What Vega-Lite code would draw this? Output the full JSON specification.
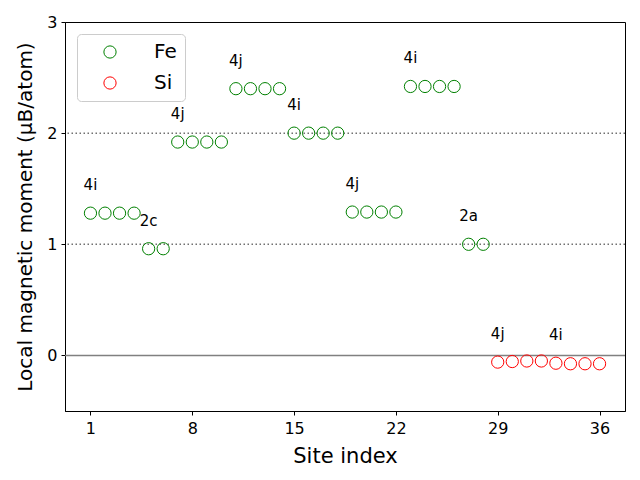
{
  "$schema": "https://vega.github.io/schema/vega-lite/v6.json",
  "width": 560,
  "height": 389,
  "autosize": {"type": "none"},
  "padding": {"left": 65, "top": 22, "right": 15, "bottom": 69},
  "background": "white",
  "config": {
    "font": "DejaVu Sans",
    "view": {"stroke": "black", "strokeWidth": 1},
    "axis": {
      "grid": false,
      "domainColor": "black",
      "tickColor": "black",
      "tickSize": 4,
      "labelColor": "black",
      "titleColor": "black",
      "labelFont": "DejaVu Sans",
      "titleFont": "DejaVu Sans",
      "labelFontSize": 16,
      "titleFontSize": 21,
      "titleFontWeight": "normal"
    }
  },
  "datasets": {
    "moments": [
      {"site": 1, "moment": 1.28, "element": "Fe"},
      {"site": 2, "moment": 1.28, "element": "Fe"},
      {"site": 3, "moment": 1.28, "element": "Fe"},
      {"site": 4, "moment": 1.28, "element": "Fe"},
      {"site": 5, "moment": 0.96, "element": "Fe"},
      {"site": 6, "moment": 0.96, "element": "Fe"},
      {"site": 7, "moment": 1.92, "element": "Fe"},
      {"site": 8, "moment": 1.92, "element": "Fe"},
      {"site": 9, "moment": 1.92, "element": "Fe"},
      {"site": 10, "moment": 1.92, "element": "Fe"},
      {"site": 11, "moment": 2.4, "element": "Fe"},
      {"site": 12, "moment": 2.4, "element": "Fe"},
      {"site": 13, "moment": 2.4, "element": "Fe"},
      {"site": 14, "moment": 2.4, "element": "Fe"},
      {"site": 15, "moment": 2.0, "element": "Fe"},
      {"site": 16, "moment": 2.0, "element": "Fe"},
      {"site": 17, "moment": 2.0, "element": "Fe"},
      {"site": 18, "moment": 2.0, "element": "Fe"},
      {"site": 19, "moment": 1.29, "element": "Fe"},
      {"site": 20, "moment": 1.29, "element": "Fe"},
      {"site": 21, "moment": 1.29, "element": "Fe"},
      {"site": 22, "moment": 1.29, "element": "Fe"},
      {"site": 23, "moment": 2.42, "element": "Fe"},
      {"site": 24, "moment": 2.42, "element": "Fe"},
      {"site": 25, "moment": 2.42, "element": "Fe"},
      {"site": 26, "moment": 2.42, "element": "Fe"},
      {"site": 27, "moment": 1.0, "element": "Fe"},
      {"site": 28, "moment": 1.0, "element": "Fe"},
      {"site": 29, "moment": -0.06, "element": "Si"},
      {"site": 30, "moment": -0.055, "element": "Si"},
      {"site": 31, "moment": -0.05, "element": "Si"},
      {"site": 32, "moment": -0.05, "element": "Si"},
      {"site": 33, "moment": -0.07, "element": "Si"},
      {"site": 34, "moment": -0.075, "element": "Si"},
      {"site": 35, "moment": -0.075, "element": "Si"},
      {"site": 36, "moment": -0.075, "element": "Si"}
    ],
    "labels": [
      {"site": 1, "moment": 1.28, "label": "4i"},
      {"site": 5, "moment": 0.96, "label": "2c"},
      {"site": 7, "moment": 1.92, "label": "4j"},
      {"site": 11, "moment": 2.4, "label": "4j"},
      {"site": 15, "moment": 2.0, "label": "4i"},
      {"site": 19, "moment": 1.29, "label": "4j"},
      {"site": 23, "moment": 2.42, "label": "4i"},
      {"site": 27, "moment": 1.0, "label": "2a"},
      {"site": 29, "moment": -0.06, "label": "4j"},
      {"site": 33, "moment": -0.07, "label": "4i"}
    ]
  },
  "layer": [
    {
      "data": {"values": [{"moment": 1}, {"moment": 2}]},
      "mark": {"type": "rule", "color": "#707070", "strokeWidth": 1.5, "strokeDash": [1.5, 2.5]},
      "encoding": {
        "y": {"field": "moment", "type": "quantitative", "scale": {"domain": [-0.5, 3], "nice": false, "zero": false}}
      }
    },
    {
      "data": {"values": [{"moment": 0}]},
      "mark": {"type": "rule", "color": "#808080", "strokeWidth": 1.5},
      "encoding": {
        "y": {"field": "moment", "type": "quantitative"}
      }
    },
    {
      "data": {"name": "moments"},
      "mark": {"type": "point", "filled": false, "size": 150, "strokeWidth": 1, "opacity": 1},
      "encoding": {
        "x": {
          "field": "site", "type": "quantitative",
          "scale": {"domain": [-0.75, 37.75], "nice": false, "zero": false},
          "axis": {"values": [1, 8, 15, 22, 29, 36], "title": "Site index", "labelPadding": 5, "titlePadding": 9, "labelFlush": false}
        },
        "y": {
          "field": "moment", "type": "quantitative",
          "scale": {"domain": [-0.5, 3], "nice": false, "zero": false},
          "axis": {"values": [0, 1, 2, 3], "format": "d", "title": "Local magnetic moment (μB/atom)", "titleFontSize": 20, "labelPadding": 4, "titlePadding": 11}
        },
        "color": {
          "field": "element", "type": "nominal",
          "scale": {"domain": ["Fe", "Si"], "range": ["#008000", "#ff0000"]},
          "legend": {
            "title": null,
            "orient": "top-left",
            "offset": 12,
            "labelFontSize": 20,
            "labelFont": "DejaVu Sans",
            "labelColor": "black",
            "symbolSize": 150,
            "symbolStrokeWidth": 1,
            "symbolType": "circle",
            "symbolFillColor": "transparent",
            "labelOffset": 34,
            "symbolOffset": 15,
            "rowPadding": 11,
            "padding": 8,
            "cornerRadius": 4,
            "strokeColor": "#cccccc",
            "fillColor": "white"
          }
        }
      }
    },
    {
      "data": {"name": "labels"},
      "mark": {"type": "text", "fontSize": 15, "color": "black", "dy": -28, "align": "center", "baseline": "middle"},
      "encoding": {
        "x": {"field": "site", "type": "quantitative"},
        "y": {"field": "moment", "type": "quantitative"},
        "text": {"field": "label"}
      }
    }
  ]
}
